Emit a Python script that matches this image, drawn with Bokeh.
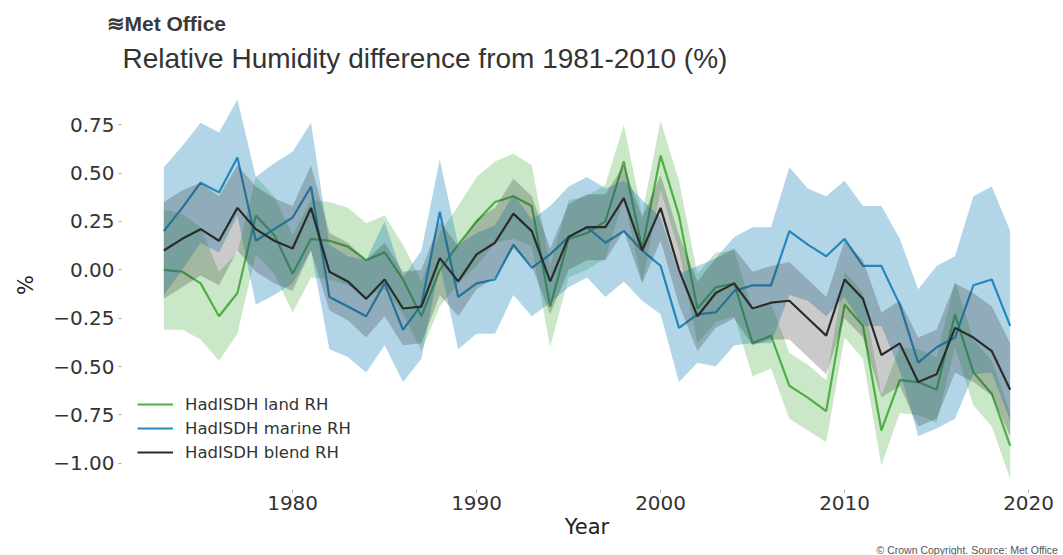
from bokeh.plotting import figure
from bokeh.models import (ColumnDataSource, Range1d, FixedTicker, CustomJSTickFormatter,
                          Legend, LegendItem, Title)
from bokeh.embed import file_html
from bokeh.resources import INLINE

years = [1973, 1974, 1975, 1976, 1977, 1978, 1979, 1980, 1981, 1982,
         1983, 1984, 1985, 1986, 1987, 1988, 1989, 1990, 1991, 1992,
         1993, 1994, 1995, 1996, 1997, 1998, 1999, 2000, 2001, 2002,
         2003, 2004, 2005, 2006, 2007, 2008, 2009, 2010, 2011, 2012,
         2013, 2014, 2015, 2016, 2017, 2018, 2019]

land = [0.00, -0.01, -0.07, -0.24, -0.12, 0.28, 0.18, -0.02, 0.16, 0.15,
        0.12, 0.05, 0.09, -0.05, -0.24, 0.00, 0.13, 0.25, 0.35, 0.38,
        0.33, -0.19, 0.16, 0.19, 0.25, 0.56, 0.11, 0.59, 0.28, -0.20,
        -0.09, -0.07, -0.38, -0.34, -0.60, -0.66, -0.73, -0.18, -0.29, -0.83,
        -0.57, -0.58, -0.62, -0.23, -0.53, -0.64, -0.91]
land_unc = [0.31, 0.30, 0.29, 0.23, 0.21, 0.20, 0.20, 0.20, 0.20, 0.20,
            0.20, 0.19, 0.19, 0.18, 0.18, 0.19, 0.20, 0.23, 0.21, 0.22,
            0.21, 0.21, 0.20, 0.19, 0.19, 0.19, 0.18, 0.18, 0.18, 0.18,
            0.18, 0.17, 0.17, 0.17, 0.17, 0.17, 0.16, 0.17, 0.17, 0.18,
            0.17, 0.17, 0.17, 0.17, 0.17, 0.17, 0.17]

marine = [0.20, 0.32, 0.45, 0.40, 0.58, 0.15, 0.21, 0.27, 0.43, -0.14,
          -0.19, -0.24, -0.07, -0.31, -0.18, 0.30, -0.14, -0.07, -0.05, 0.13,
          0.01, 0.08, 0.17, 0.22, 0.14, 0.20, 0.10, 0.02, -0.30, -0.23,
          -0.22, -0.11, -0.08, -0.08, 0.20, 0.13, 0.07, 0.16, 0.02, 0.02,
          -0.18, -0.48, -0.40, -0.35, -0.08, -0.05, -0.29]
marine_unc = [0.33, 0.32, 0.31, 0.31, 0.30, 0.33, 0.34, 0.34, 0.33, 0.27,
              0.26, 0.29, 0.32, 0.27, 0.28, 0.27, 0.27, 0.26, 0.28, 0.26,
              0.25, 0.25, 0.26, 0.26, 0.28, 0.26, 0.26, 0.25, 0.28, 0.25,
              0.28, 0.28, 0.30, 0.30, 0.33, 0.29, 0.31, 0.30, 0.31, 0.31,
              0.34, 0.38, 0.42, 0.42, 0.46, 0.48, 0.49]

blend = [0.10, 0.16, 0.21, 0.15, 0.32, 0.21, 0.15, 0.11, 0.32, -0.01,
         -0.06, -0.15, -0.05, -0.20, -0.19, 0.06, -0.06, 0.08, 0.14, 0.29,
         0.20, -0.06, 0.17, 0.22, 0.22, 0.37, 0.10, 0.32, 0.00, -0.24,
         -0.12, -0.07, -0.20, -0.17, -0.16, -0.25, -0.34, -0.05, -0.15, -0.44,
         -0.38, -0.58, -0.54, -0.30, -0.35, -0.42, -0.62]
blend_unc = [0.25, 0.25, 0.24, 0.23, 0.22, 0.22, 0.22, 0.22, 0.22, 0.20,
             0.20, 0.20, 0.19, 0.19, 0.19, 0.19, 0.18, 0.18, 0.18, 0.18,
             0.18, 0.17, 0.17, 0.17, 0.17, 0.17, 0.17, 0.17, 0.18, 0.18,
             0.18, 0.18, 0.19, 0.19, 0.20, 0.20, 0.20, 0.20, 0.20, 0.22,
             0.22, 0.23, 0.23, 0.23, 0.23, 0.23, 0.24]

series_names = ["HadISDH land RH", "HadISDH marine RH", "HadISDH blend RH"]
y_ticks = [-1.0, -0.75, -0.5, -0.25, 0.0, 0.25, 0.5, 0.75]
x_ticks = [1980, 1990, 2000, 2010, 2020]

LAND_C = "#4fae46"
MARINE_C = "#2389bd"
BLEND_C = "#2b2b2b"

p = figure(width=1063, height=555, output_backend="svg", toolbar_location=None,
           x_range=Range1d(1970.7, 2021.3), y_range=Range1d(-1.135, 0.978),
           min_border_left=121, min_border_right=11, min_border_top=80, min_border_bottom=40,
           title="\u224bMet Office")
p.outline_line_color = None
p.xgrid.visible = False
p.ygrid.visible = False
p.background_fill_color = "white"

# outermost: logo line
p.title.text_font = "Liberation Sans"
p.title.text_font_size = "21px"
p.title.text_font_style = "bold"
p.title.text_color = "#3a3a3a"
p.title.align = "left"
p.title.offset = -15
p.title.standoff = 0

# nearest the frame: chart title
p.add_layout(Title(text="Relative Humidity difference from 1981-2010 (%)",
                   text_font="Liberation Sans", text_font_size="28px",
                   text_font_style="normal", text_color="#333333", align="left",
                   offset=1, standoff=13), "above")

def make_src(vals, unc):
    return ColumnDataSource(dict(x=years, y=vals,
                                 lo=[v - u for v, u in zip(vals, unc)],
                                 hi=[v + u for v, u in zip(vals, unc)]))

renderers = []
for vals, unc, col, falpha in [(land, land_unc, LAND_C, 0.30),
                               (marine, marine_unc, MARINE_C, 0.35),
                               (blend, blend_unc, BLEND_C, 0.25)]:
    src = make_src(vals, unc)
    p.varea(x="x", y1="lo", y2="hi", source=src, fill_color=col, fill_alpha=falpha)
    r = p.line(x="x", y="y", source=src, line_color=col, line_width=2.2)
    renderers.append(r)

legend = Legend(items=[LegendItem(label=n, renderers=[r]) for n, r in zip(series_names, renderers)],
                location=(6, 17), label_text_font="DejaVu Sans", label_text_font_size="16.5px",
                label_text_color="#333333", glyph_width=36, glyph_height=20, spacing=4,
                label_standoff=12, padding=10, border_line_alpha=0, background_fill_alpha=0)
p.add_layout(legend)

for ax in (p.xaxis[0], p.yaxis[0]):
    ax.axis_line_color = None
    ax.major_tick_line_color = "#aaaaaa"
    ax.major_tick_out = 3
    ax.major_tick_in = 0
    ax.minor_tick_line_color = None
    ax.major_label_text_font = "DejaVu Sans"
    ax.major_label_text_font_size = "20px"
    ax.major_label_text_color = "#333333"
    ax.axis_label_text_font = "DejaVu Sans"
    ax.axis_label_text_font_style = "normal"
    ax.axis_label_text_color = "#222222"
    ax.axis_label_text_font_size = "21px"

p.yaxis[0].ticker = FixedTicker(ticks=y_ticks)
p.yaxis[0].formatter = CustomJSTickFormatter(
    code="return (tick < 0 ? '\u2212' : '') + Math.abs(tick).toFixed(2);")
p.yaxis[0].axis_label = "%"
p.yaxis[0].major_label_standoff = 4
p.yaxis[0].axis_label_standoff = 12

p.xaxis[0].ticker = FixedTicker(ticks=x_ticks)
p.xaxis[0].axis_label = "Year"
p.xaxis[0].major_label_standoff = 3
p.xaxis[0].axis_label_standoff = 2

p.add_layout(Title(text="\u00a9 Crown Copyright. Source: Met Office", text_font="Liberation Sans",
                   text_font_size="10.5px", text_font_style="normal", text_color="#555555",
                   align="left", offset=755, standoff=0), "below")

open("out.html", "w").write(file_html(p, INLINE))
